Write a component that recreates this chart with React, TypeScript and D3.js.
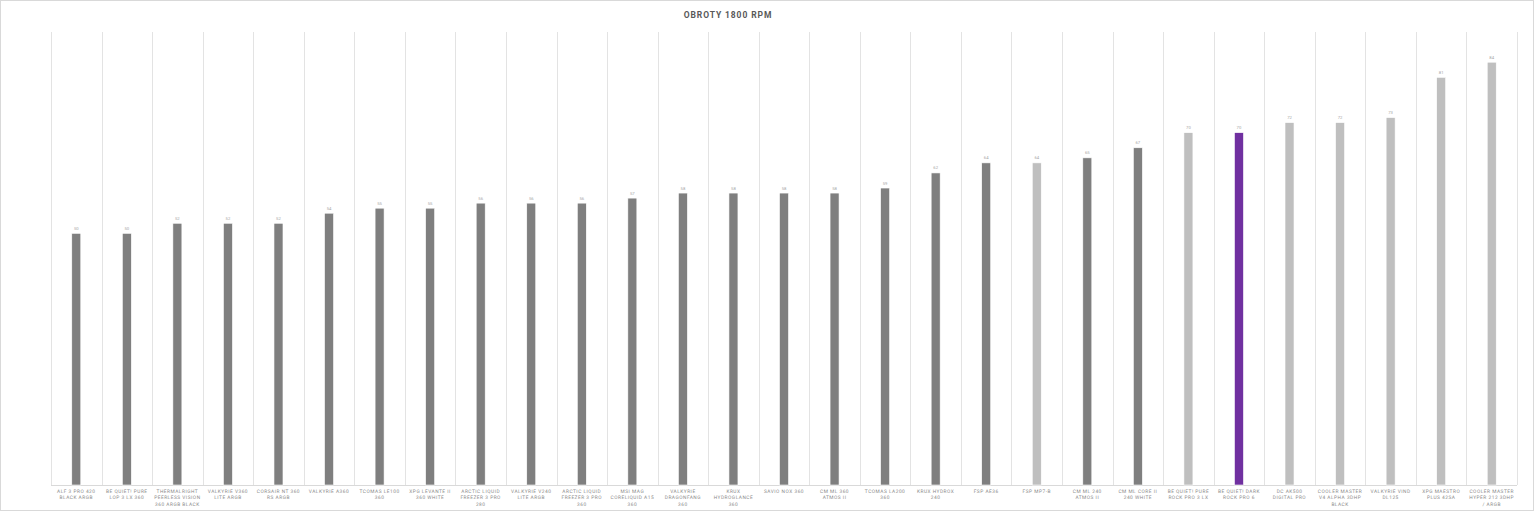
import React from 'react';
import * as d3 from 'd3';

const categories = [
    'ALF 3 PRO 420\nBLACK ARGB',
    'BE QUIET! PURE\nLOP 3 LX 360',
    'THERMALRIGHT\nPEERLESS VISION\n360 ARGB BLACK',
    'VALKYRIE V360\nLITE ARGB',
    'CORSAIR NT 360\nRS ARGB',
    'VALKYRIE A360',
    'TCOMAS LE100\n360',
    'XPG LEVANTE II\n360 WHITE',
    'ARCTIC LIQUID\nFREEZER 3 PRO\n280',
    'VALKYRIE V240\nLITE ARGB',
    'ARCTIC LIQUID\nFREEZER 3 PRO\n360',
    'MSI MAG\nCORELIQUID A15\n360',
    'VALKYRIE\nDRAGONFANG\n360',
    'KRUX\nHYDROGLANCE\n360',
    'SAVIO NOX 360',
    'CM ML 360\nATMOS II',
    'TCOMAS LA200\n360',
    'KRUX HYDROX\n240',
    'FSP AE36',
    'FSP MP7-B',
    'CM ML 240\nATMOS II',
    'CM ML CORE II\n240 WHITE',
    'BE QUIET! PURE\nROCK PRO 3 LX',
    'BE QUIET! DARK\nROCK PRO 6',
    'DC AK500\nDIGITAL PRO',
    'COOLER MASTER\nV4 ALPHA 3DHP\nBLACK',
    'VALKYRIE VIND\nDL125',
    'XPG MAESTRO\nPLUS 42SA',
    'COOLER MASTER\nHYPER 212 3DHP\n/ ARGB',
];

const values = [50, 50, 52, 52, 52, 54, 55, 55, 56, 56, 56, 57, 58, 58, 58, 58, 59, 62, 64, 64, 65, 67, 70, 70, 72, 72, 73, 81, 84];

// 'a' = AIO (dark gray), 'c' = air cooler (light gray), 'h' = highlighted
const kinds = ['a', 'a', 'a', 'a', 'a', 'a', 'a', 'a', 'a', 'a', 'a', 'a', 'a', 'a', 'a', 'a', 'a', 'a', 'a', 'c', 'a', 'a', 'c', 'h', 'c', 'c', 'c', 'c', 'c'];

const colors: Record<string, string> = { a: '#7f7f7f', c: '#bfbfbf', h: '#7030a0' };

const WIDTH = 1536,
    HEIGHT = 513;

const PLOT = { LEFT: 51, RIGHT: 1517, TOP: 32, BOTTOM: 485 };

const FONT = 'Roboto, "DejaVu Sans", sans-serif';

const App = () => {
    const x = d3.scaleBand<number>()
        .domain(d3.range(categories.length))
        .range([PLOT.LEFT, PLOT.RIGHT])
        .padding(0);

    const y = d3.scaleLinear().domain([0, 90]).range([PLOT.BOTTOM, PLOT.TOP]);

    const barWidth = 9;

    const gridLines = d3.range(categories.length + 1).map(i => {
        const gx = Math.round(PLOT.LEFT + i * x.step()) + 0.5;
        return <line key={`g-${i}`} x1={gx} x2={gx} y1={PLOT.TOP} y2={PLOT.BOTTOM} stroke='#e3e3e3' strokeWidth={1} />;
    });

    const bars = values.map((v, i) => {
        const cx = (x(i) as number) + x.bandwidth() / 2;
        return (
            <g key={`b-${i}`}>
                <rect x={cx - barWidth / 2} y={y(v)} width={barWidth} height={y(0) - y(v)}
                    fill={colors[kinds[i]]} stroke='#ffffff' strokeWidth={0.6} />
                <text x={cx} y={y(v) - 3.5} textAnchor='middle' fontSize={4.2} fill='#a6a6a6' fontFamily={FONT}>{v}</text>
            </g>
        );
    });

    const labels = categories.map((c, i) => {
        const cx = (x(i) as number) + x.bandwidth() / 2;
        return (
            <text key={`l-${i}`} x={cx} y={492.5} textAnchor='middle' fontSize={4.8} fill='#8a8a8a'
                letterSpacing={0.5} fontFamily={FONT} style={{ textRendering: 'geometricPrecision' }}>
                {c.split('\n').map((line, j) => (
                    <tspan key={j} x={cx} dy={j === 0 ? 0 : 6.5}>{line}</tspan>
                ))}
            </text>
        );
    });

    return (
        <div style={{ position: 'fixed', left: 0, top: 0 }}>
            <svg width={WIDTH} height={HEIGHT} style={{ display: 'block', background: '#ffffff' }}>
                <rect x={0.5} y={0.5} width={WIDTH - 3} height={HEIGHT - 3} fill='none' stroke='#d9d9d9' strokeWidth={1} />
                <text x={728} y={18} textAnchor='middle' fontSize={8.5} fontWeight='bold' fill='#595959'
                    letterSpacing={0.9} fontFamily={FONT}>OBROTY 1800 RPM</text>
                <g>{gridLines}</g>
                <line x1={PLOT.LEFT} x2={PLOT.RIGHT} y1={PLOT.BOTTOM + 0.5} y2={PLOT.BOTTOM + 0.5} stroke='#d9d9d9' strokeWidth={1} />
                <g>{bars}</g>
                <g>{labels}</g>
            </svg>
        </div>
    );
};

export default App;
